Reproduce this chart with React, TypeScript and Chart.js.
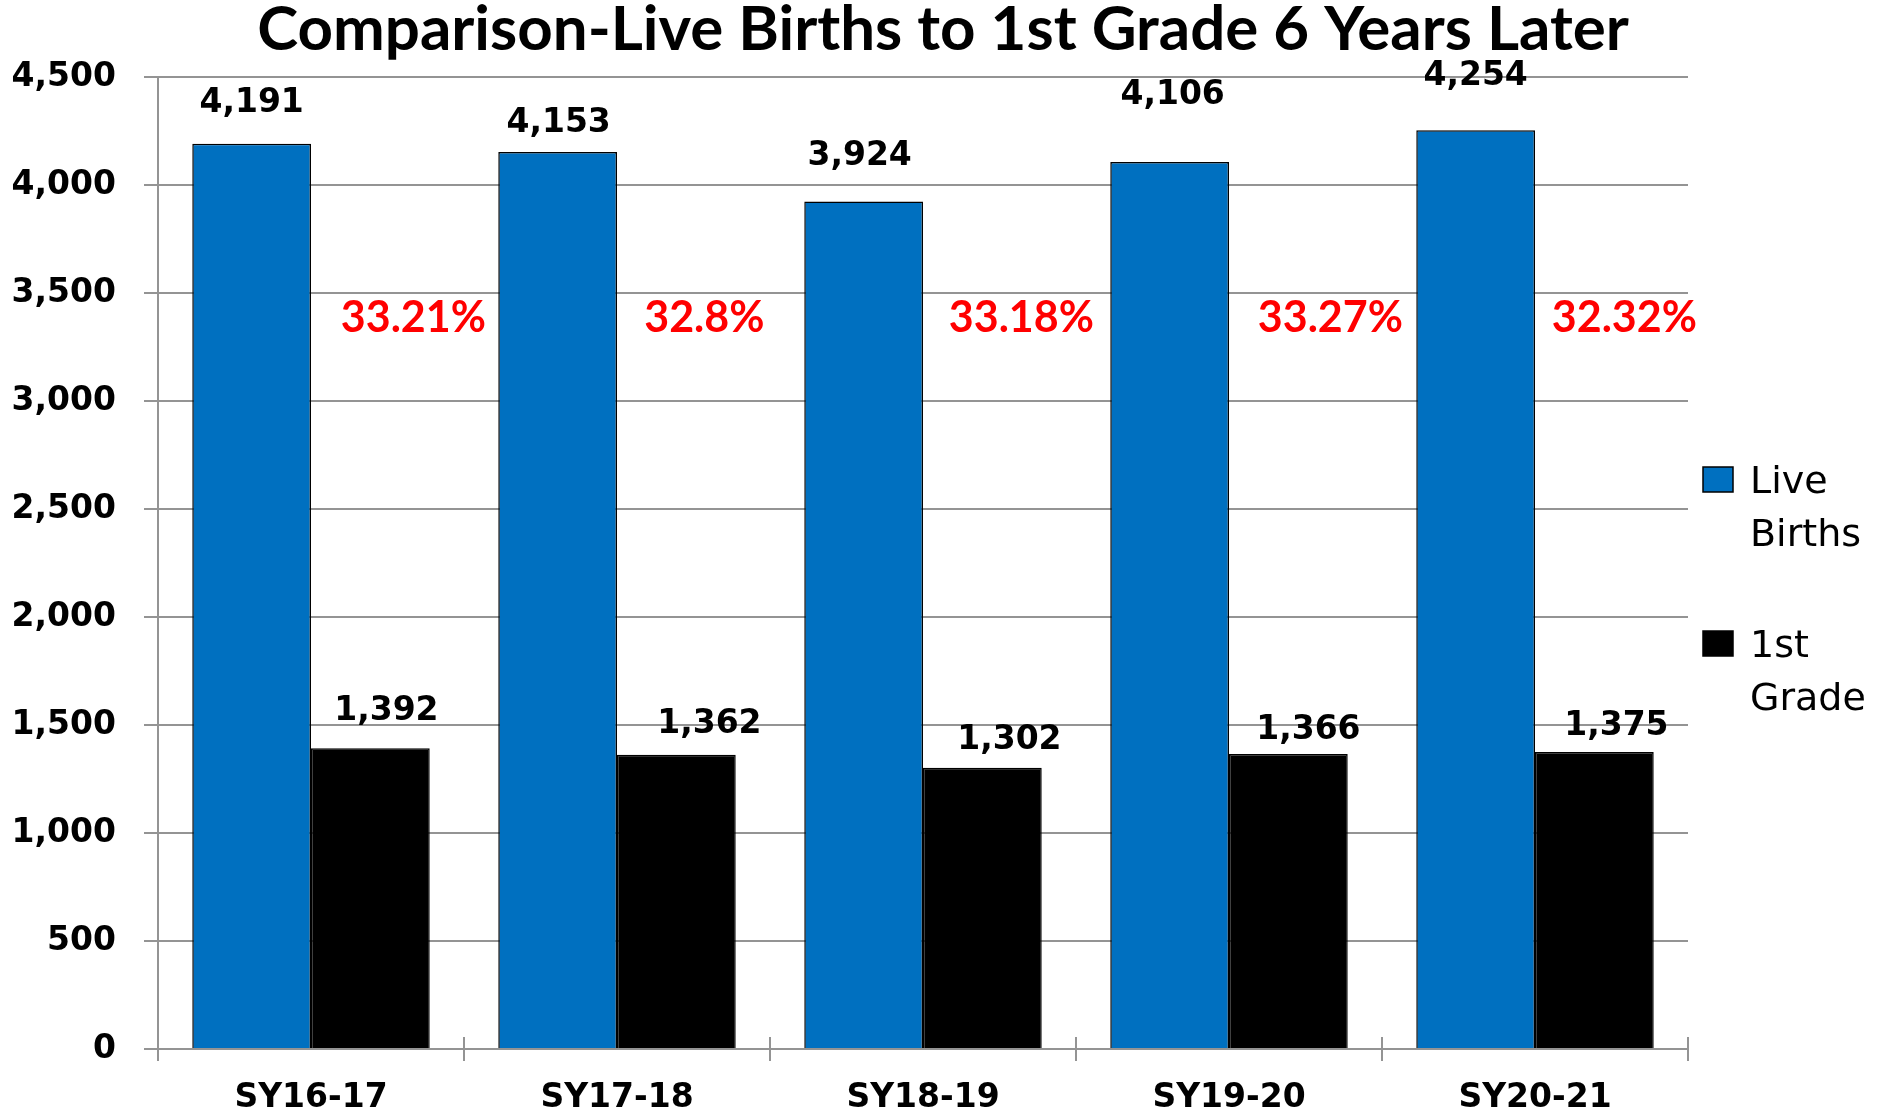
import React, { useEffect, useRef } from "react";
import { Chart, registerables } from "chart.js";

Chart.register(...registerables);

// ---------- data ----------
const categories = ["SY16-17", "SY17-18", "SY18-19", "SY19-20", "SY20-21"];
const liveBirths = [4191, 4153, 3924, 4106, 4254];
const firstGrade = [1392, 1362, 1302, 1366, 1375];
const ratioLabels = ["33.21%", "32.8%", "33.18%", "33.27%", "32.32%"];
const seriesNames = ["Live Births", "1st Grade"];
const titleText = "Comparison-Live Births to 1st Grade 6 Years Later";
const yMin = 0;
const yMax = 4500;
const yStep = 500;
const ratioLabelValue = 3319; // y-value at which the red ratio labels sit

// ---------- styles ----------
const BLUE = "#0070C0";
const GRID = "#949494";
const NUM_SIZE = 33;
const NUM_FONT = `bold ${NUM_SIZE}px 'DejaVu Sans'`;
// label offsets (pixels) relative to each bar top / centre
const blueLift = [32, 20, 36, 58, 45];
const blueShift = [0, 1, -4, 3, 0];
const blackLift = [28, 22, 19, 15, 17];
const blackShift = [16, 33, 27, 20, 22];
const ratioShift = [43, 28, 39, 42, 30];

const fmt = (v: number) => String(v).replace(/\B(?=(\d{3})+(?!\d))/g, ",");

const overlayPlugin = {
  id: "overlay",
  afterDatasetsDraw(chart: any) {
    const ctx = chart.ctx as CanvasRenderingContext2D;
    const xs = chart.scales.x;
    const ys = chart.scales.y;
    ctx.save();
    // cross tick marks above the category axis
    ctx.strokeStyle = GRID;
    ctx.lineWidth = 2;
    const n = categories.length;
    for (let i = 0; i <= n; i++) {
      const x = xs.left + (xs.width / n) * i;
      ctx.beginPath();
      ctx.moveTo(x, ys.bottom);
      ctx.lineTo(x, ys.bottom - 12);
      ctx.stroke();
    }
    // value labels
    ctx.font = NUM_FONT;
    ctx.fillStyle = "#000";
    ctx.textAlign = "center";
    ctx.textBaseline = "alphabetic";
    chart.getDatasetMeta(0).data.forEach((el: any, j: number) => {
      ctx.fillText(fmt(liveBirths[j]), el.x + blueShift[j], el.y - blueLift[j]);
    });
    chart.getDatasetMeta(1).data.forEach((el: any, j: number) => {
      ctx.fillText(fmt(firstGrade[j]), el.x + blackShift[j], el.y - blackLift[j]);
    });
    // ratio labels
    ctx.font = "bold 43px Lato";
    ctx.fillStyle = "#ff0000";
    chart.getDatasetMeta(1).data.forEach((el: any, j: number) => {
      ctx.fillText(ratioLabels[j], el.x + ratioShift[j], ys.getPixelForValue(ratioLabelValue));
    });
    ctx.restore();
  },
  afterDraw(chart: any) {
    const ctx = chart.ctx as CanvasRenderingContext2D;
    const area = chart.chartArea;
    ctx.save();
    // title (fit to target width)
    ctx.fillStyle = "#000";
    ctx.textAlign = "center";
    ctx.textBaseline = "alphabetic";
    ctx.font = "bold 56px Lato";
    const w = ctx.measureText(titleText).width;
    const size = (56 * 1372) / w;
    ctx.font = `bold ${size}px Lato`;
    ctx.fillText(titleText, chart.width / 2 - 4, 50);

    // legend
    const ds = chart.data.datasets;
    const boxX = area.right + 15;
    const textX = area.right + 62;
    const tops = [467, 631];
    ctx.textAlign = "left";
    ctx.font = "38px 'DejaVu Sans'";
    ds.forEach((d: any, i: number) => {
      const top = tops[i];
      ctx.fillStyle = d.backgroundColor;
      ctx.fillRect(boxX, top, 30, 25);
      ctx.strokeStyle = "#000";
      ctx.lineWidth = 1.5;
      ctx.strokeRect(boxX, top, 30, 25);
      ctx.fillStyle = "#000";
      const words = String(d.label).split(" ");
      words.forEach((wd, k) => ctx.fillText(wd, textX, top + 26 + k * 53));
    });
    ctx.restore();
  },
};

export default function App() {
  const ref = useRef<HTMLCanvasElement>(null);
  useEffect(() => {
    const chart = new Chart(ref.current as HTMLCanvasElement, {
      type: "bar",
      data: {
        labels: categories,
        datasets: [
          {
            label: seriesNames[0],
            data: liveBirths,
            backgroundColor: BLUE,
            borderColor: "#000",
            borderWidth: 1.5,
            categoryPercentage: 0.776,
            barPercentage: 1,
          },
          {
            label: seriesNames[1],
            data: firstGrade,
            backgroundColor: "#000",
            borderColor: "#000",
            borderWidth: 1.5,
            categoryPercentage: 0.776,
            barPercentage: 1,
          },
        ],
      },
      options: {
        responsive: false,
        animation: false,
        events: [],
        layout: { padding: { top: 77, right: 206, bottom: 0, left: 0 } },
        plugins: {
          legend: { display: false },
          title: { display: false },
          tooltip: { enabled: false },
        },
        scales: {
          x: {
            offset: true,
            grid: {
              display: true,
              drawOnChartArea: false,
              drawTicks: true,
              tickLength: 12,
              color: GRID,
              lineWidth: 2,
              offset: true,
            },
            border: { display: true, color: GRID, width: 2 },
            ticks: {
              font: { family: "DejaVu Sans", weight: "bold", size: NUM_SIZE },
              color: "#000",
              padding: 18,
              maxRotation: 0,
              autoSkip: false,
            },
            afterFit: (s: any) => {
              s.height = 68;
            },
          },
          y: {
            min: yMin,
            max: yMax,
            ticks: {
              stepSize: yStep,
              callback: (v: any) => fmt(Number(v)),
              font: { family: "DejaVu Sans", weight: "bold", size: NUM_SIZE },
              color: "#000",
              padding: 28,
            },
            grid: { color: GRID, lineWidth: 2, tickLength: 14, drawTicks: true },
            border: { display: true, color: GRID, width: 2 },
            afterFit: (s: any) => {
              s.width = 158;
            },
          },
        },
      },
      plugins: [overlayPlugin],
    });
    return () => chart.destroy();
  }, []);
  return (
    <div style={{ position: "absolute", left: 0, top: 0, width: 1894, height: 1117, background: "#fff" }}>
      <canvas ref={ref} width={1894} height={1117} style={{ display: "block", width: 1894, height: 1117 }} />
    </div>
  );
}
